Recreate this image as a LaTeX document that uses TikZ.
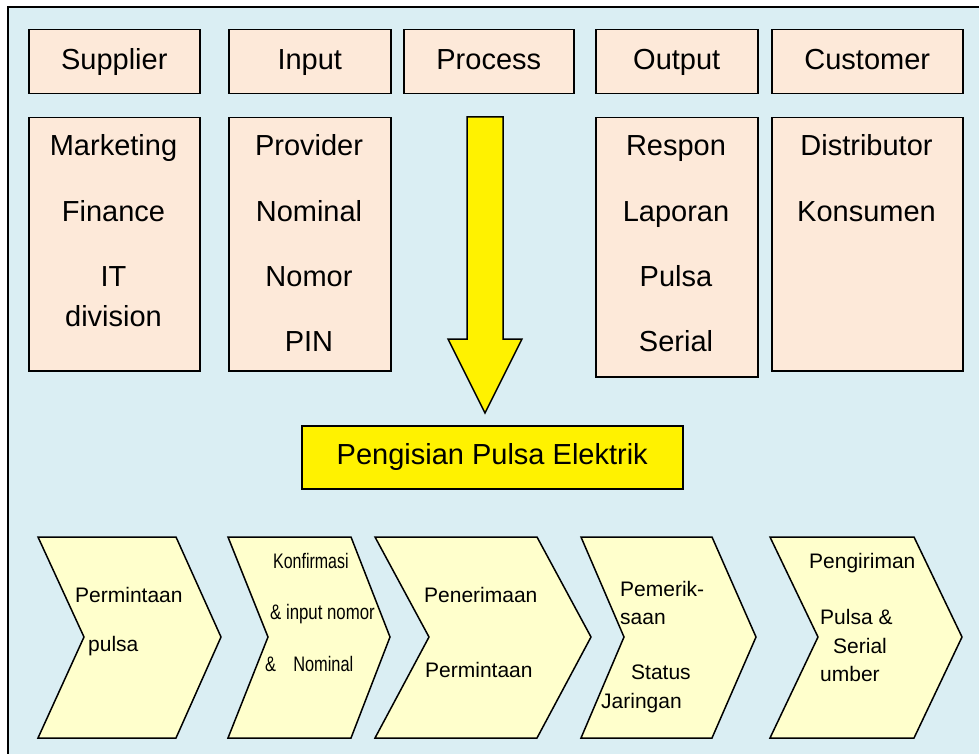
\documentclass[tikz,border=0pt]{standalone}
\usepackage{fontspec}
\usepackage{graphicx}
\setmainfont{Liberation Sans}
\definecolor{framefill}{HTML}{DAEEF3}
\definecolor{boxfill}{HTML}{FDE9D9}
\definecolor{chevfill}{HTML}{FFFFCC}
\begin{document}
\begin{tikzpicture}[x=1pt,y=-1pt,
    big/.style={font=\fontsize{29}{35}\selectfont,text height=21pt,text depth=6pt},
    small/.style={font=\fontsize{21}{25}\selectfont}]
    \tikzstyle{box}=[draw,line width=1.5pt,fill=boxfill,inner sep=0pt,anchor=north west]
    \tikzstyle{chev}=[draw,line width=1.5pt,fill=chevfill,line join=miter]
    \tikzstyle{line}=[big,anchor=base,inner sep=0pt]
    \tikzstyle{step text}=[small,anchor=base west,inner sep=0pt]
    \useasboundingbox (0,0) rectangle (979,754);
    \clip (0,0) rectangle (979,754);
    \fill[framefill] (8,7) rectangle (990,770);
    \draw[line width=1.5pt] (8,770) -- (8,7) -- (990,7);
    \foreach \nm/\xa/\xb/\txt in {supplier/28/199/Supplier, input/228/390/Input,
        process/403/573/Process, output/595/757/Output, customer/771/962/Customer}
      \node[box,big,minimum width={\xb-\xa},minimum height=64] (\nm) at (\xa,29) {\txt};
    \node[box,minimum width=171,minimum height=253] (supplierlist) at (28,117) {};
    \node[box,minimum width=162,minimum height=253] (inputlist) at (228,117) {};
    \node[box,minimum width=162,minimum height=259] (outputlist) at (595,117) {};
    \node[box,minimum width=191,minimum height=253] (customerlist) at (771,117) {};
    \foreach \txt/\yb [count=\i] in {Marketing/156, Finance/221, IT/286, division/326}
      \node[line] (sup-\i) at (113.5,\yb) {\txt};
    \foreach \txt/\yb [count=\i] in {Provider/156, Nominal/221, Nomor/286, PIN/351}
      \node[line] (inp-\i) at (309,\yb) {\txt};
    \foreach \txt/\yb [count=\i] in {Respon/156, Laporan/221, Pulsa/286, Serial/351}
      \node[line] (out-\i) at (676,\yb) {\txt};
    \foreach \txt/\yb [count=\i] in {Distributor/156, Konsumen/221}
      \node[line] (cus-\i) at (866.5,\yb) {\txt};
    \draw[line width=1.5pt,fill=yellow,line join=miter]
      (467,117) -- (503,117) -- (503,339) -- (522,339) -- (485,413)
      -- (448,339) -- (467,339) -- cycle;
    \node[box,fill=yellow,big,minimum width=381,minimum height=63] (pengisian)
      at (301,425) {Pengisian Pulsa Elektrik};
    \foreach \xl/\xr/\xt/\xn in {38/176/221/84, 228/351/390/268, 375/537/591/429,
        581/712/756/624, 770/914/962/818}
      \draw[chev] (\xl,537) -- (\xr,537) -- (\xt,637) -- (\xr,738) -- (\xl,738)
        -- (\xn,637) -- cycle;
    \foreach \xa/\yb/\txt [count=\i] in {75/602/Permintaan, 88/651/pulsa,
        273/568/{\scalebox{0.76}[1]{Konfirmasi}},
        270/619/{\scalebox{0.8}[1]{\& input nomor}},
        265/671/{\scalebox{0.78}[1]{\&\hspace{22pt}Nominal}},
        424/602/Penerimaan, 425/677/Permintaan,
        620/596/Pemerik-, 620/624/saan, 631/679/Status, 601/708/Jaringan,
        809/568/Pengiriman, 820/624/Pulsa \&, 833/653/Serial, 820/681/umber}
      \node[step text] (step-\i) at (\xa,\yb) {\txt};
  \end{tikzpicture}
\end{document}
